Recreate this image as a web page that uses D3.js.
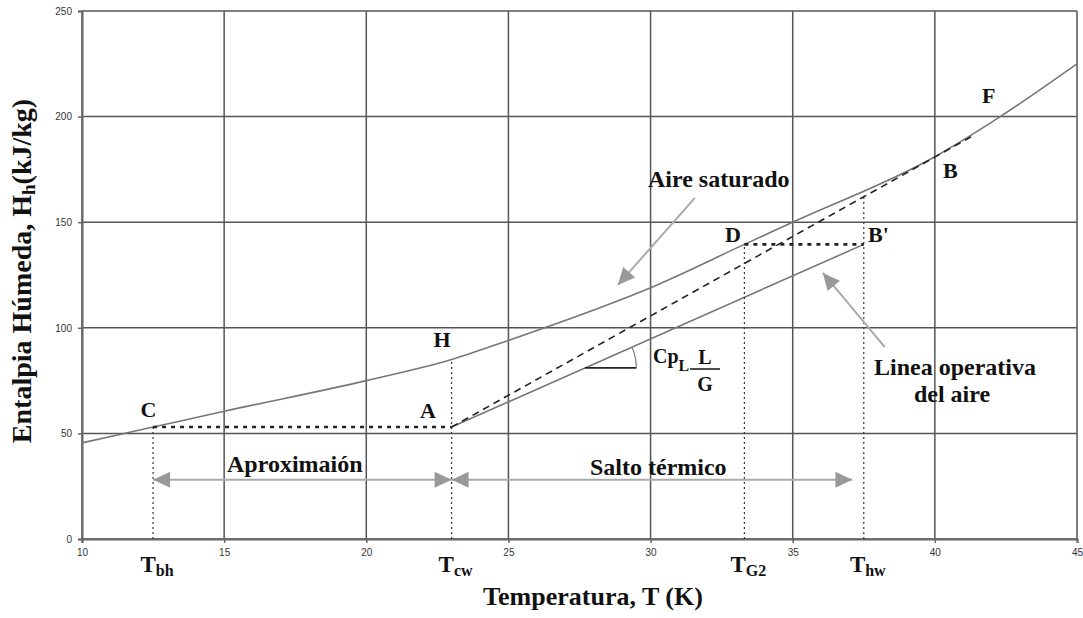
<!DOCTYPE html>
<html>
<head>
<meta charset="utf-8">
<script src="https://cdn.jsdelivr.net/npm/d3@7"></script>
<style>
  html, body { margin: 0; padding: 0; background: #fff; }
  svg { display: block; }
  .serif { font-family: "Liberation Serif", "Times New Roman", "DejaVu Serif", serif; font-weight: bold; fill: #111; }
  .tick text { font-family: "Liberation Sans", Arial, sans-serif; font-size: 10px; fill: #333; }
</style>
</head>
<body>
<svg id="chart" width="1083" height="618"></svg>
<script>
// Axis ticks
const xTicks = [10, 15, 20, 25, 30, 35, 40, 45];
const yTicks = [0, 50, 100, 150, 200, 250];

// Saturated-air enthalpy curve (T, Hh)
const satTemp = [10, 12.5, 15, 20, 23, 25, 28.9, 30, 33.3, 35, 40, 42.3, 45];
const satEnth = [45.5, 53, 60.5, 75, 85, 94, 113, 119, 139.5, 150, 181, 200, 225];

// Air operating line A -> B'
const opTemp = [23, 37.5];
const opEnth = [53, 139.5];

// Limiting operating line A -> B (tangent to saturation curve)
const limTemp = [23, 41.35];
const limEnth = [53, 191];

// Characteristic temperatures
const tempNames = ["bh", "cw", "G2", "hw"];
const tempValues = [12.5, 23, 33.3, 37.5];
const tempTops = [53, 85, 139.5, 162.2];

// Horizontal construction lines (C-A and D-B')
const hFrom = [12.5, 33.3];
const hTo = [23, 37.5];
const hLevel = [53, 139.5];

// Range arrows
const rangeNames = ["Aproximaión", "Salto térmico"];
const rangeFrom = [12.5, 23];
const rangeTo = [23, 37.1];
const rangeLevel = 28;

const svg = d3.select("#chart");
const x = d3.scaleLinear().domain([10, 45]).range([82, 1077]);
const y = d3.scaleLinear().domain([0, 250]).range([539, 11]);

// grid
const grid = svg.append("g");
grid.selectAll("line.v").data(xTicks).join("line")
  .attr("x1", d => x(d)).attr("x2", d => x(d))
  .attr("y1", y(0)).attr("y2", y(250))
  .attr("stroke", "#555").attr("stroke-width", 1.5);
grid.selectAll("line.h").data(yTicks).join("line")
  .attr("x1", x(10)).attr("x2", x(45))
  .attr("y1", d => y(d)).attr("y2", d => y(d))
  .attr("stroke", "#555").attr("stroke-width", 1.5);

// axes
const xAxis = svg.append("g").attr("transform", `translate(0,${y(0)})`)
  .call(d3.axisBottom(x).tickValues(xTicks).tickSize(4).tickPadding(6));
const yAxis = svg.append("g").attr("transform", `translate(${x(10)},0)`)
  .call(d3.axisLeft(y).tickValues(yTicks).tickSize(4).tickPadding(6));
[xAxis, yAxis].forEach(a => {
  a.select(".domain").attr("stroke", "#666").attr("stroke-width", 2);
  a.selectAll(".tick line").attr("stroke", "#666").attr("stroke-width", 1.5);
});

const line = d3.line().x(d => x(d[0])).y(d => y(d[1]));

// saturation curve
svg.append("path")
  .attr("d", line.curve(d3.curveMonotoneX)(d3.zip(satTemp, satEnth)))
  .attr("fill", "none").attr("stroke", "#777").attr("stroke-width", 1.6);
line.curve(d3.curveLinear);

// operating line
svg.append("path")
  .attr("d", line(d3.zip(opTemp, opEnth)))
  .attr("fill", "none").attr("stroke", "#777").attr("stroke-width", 1.6);

// limiting (dashed) line
svg.append("path")
  .attr("d", line(d3.zip(limTemp, limEnth)))
  .attr("fill", "none").attr("stroke", "#222").attr("stroke-width", 1.6)
  .attr("stroke-dasharray", "7,5");

// vertical thin dotted lines
svg.append("g").selectAll("line").data(tempValues).join("line")
  .attr("x1", d => x(d)).attr("x2", d => x(d))
  .attr("y1", y(0)).attr("y2", (d, i) => y(tempTops[i]))
  .attr("stroke", "#333").attr("stroke-width", 1.2)
  .attr("stroke-dasharray", "2,3");

// heavy dotted horizontals
svg.append("g").selectAll("line").data(hFrom).join("line")
  .attr("x1", d => x(d)).attr("x2", (d, i) => x(hTo[i]))
  .attr("y1", (d, i) => y(hLevel[i])).attr("y2", (d, i) => y(hLevel[i]))
  .attr("stroke", "#222").attr("stroke-width", 2.6)
  .attr("stroke-dasharray", "4,5");

// arrowhead helper: triangle with tip at (tx,ty) pointing along angle
function head(g, tx, ty, ang, len = 17, half = 8) {
  const c = Math.cos(ang), s = Math.sin(ang);
  const bx = tx - c * len, by = ty - s * len;
  g.append("path")
    .attr("d", `M${tx},${ty}L${bx - s * half},${by + c * half}L${bx + s * half},${by - c * half}Z`)
    .attr("fill", "#999");
}
function arrow(g, x1, y1, x2, y2, both) {
  const ang = Math.atan2(y2 - y1, x2 - x1);
  g.append("line").attr("x1", x1).attr("y1", y1).attr("x2", x2).attr("y2", y2)
    .attr("stroke", "#aaa").attr("stroke-width", 2);
  head(g, x2, y2, ang);
  if (both) head(g, x1, y1, ang + Math.PI);
}

const arrows = svg.append("g");
rangeFrom.forEach((d, i) => arrow(arrows, x(d), y(rangeLevel), x(rangeTo[i]), y(rangeLevel), true));
arrow(arrows, x(31.56), y(161.5), x(28.85), y(120.3), false);
arrow(arrows, x(38.24), y(90.9), x(36.06), y(126), false);

// slope marker on the operating line
const opSlope = (opEnth[1] - opEnth[0]) / (opTemp[1] - opTemp[0]);
const mH = 81, mT = opTemp[0] + (mH - opEnth[0]) / opSlope;
const mx = x(mT), my = y(mH), r = x(29.5) - mx;
const ang = Math.atan2(y(opEnth[1]) - y(opEnth[0]), x(opTemp[1]) - x(opTemp[0]));
svg.append("line").attr("x1", mx).attr("x2", mx + r).attr("y1", my).attr("y2", my)
  .attr("stroke", "#222").attr("stroke-width", 1.8);
svg.append("path")
  .attr("d", `M${mx + r},${my}A${r},${r} 0 0 0 ${mx + r * Math.cos(ang)},${my + r * Math.sin(ang)}`)
  .attr("fill", "none").attr("stroke", "#777").attr("stroke-width", 1.2);

// text helpers
function txt(str, px, py, size, anchor = "start") {
  return svg.append("text").attr("class", "serif").attr("x", px).attr("y", py)
    .attr("font-size", size).attr("text-anchor", anchor).text(str);
}

// point letters
txt("C", 148.5, 417, 22, "middle");
txt("A", 428, 418, 22, "middle");
txt("H", 442, 347, 22, "middle");
txt("D", 733, 242, 22, "middle");
txt("B'", 868, 242, 22);
txt("B", 943, 178, 22);
txt("F", 982, 103, 22);

// annotations
txt("Aire saturado", 648, 187, 24);
txt(rangeNames[0], 227, 472, 24);
txt(rangeNames[1], 590, 475, 24);
txt("Linea operativa", 955, 375, 24, "middle");
txt("del aire", 952, 402, 24, "middle");

// Cp_L * L/G
const cp = svg.append("text").attr("class", "serif").attr("x", 653).attr("y", 363).attr("font-size", 20);
cp.append("tspan").text("Cp");
cp.append("tspan").attr("dy", 8).attr("font-size", 16).text("L");
txt("L", 705, 364, 20, "middle");
svg.append("line").attr("x1", 690).attr("x2", 720).attr("y1", 369).attr("y2", 369)
  .attr("stroke", "#111").attr("stroke-width", 1.5);
txt("G", 705, 391, 20, "middle");

// temperature labels under the axis
tempValues.forEach((t, i) => {
  const el = svg.append("text").attr("class", "serif").attr("x", x(t) + 4).attr("y", 572)
    .attr("font-size", 23).attr("text-anchor", "middle");
  el.append("tspan").text("T");
  el.append("tspan").attr("dy", 4).attr("font-size", 16).text(tempNames[i]);
});

// axis titles
txt("Temperatura, T (K)", 593, 605, 26, "middle");
const yt = svg.append("text").attr("class", "serif")
  .attr("transform", "translate(31,271) rotate(-90)")
  .attr("text-anchor", "middle").attr("font-size", 28);
yt.append("tspan").text("Entalpia Húmeda, H");
yt.append("tspan").attr("dy", 4).attr("font-size", 19).text("h");
yt.append("tspan").attr("dy", -4).text("(kJ/kg)");
</script>
</body>
</html>
